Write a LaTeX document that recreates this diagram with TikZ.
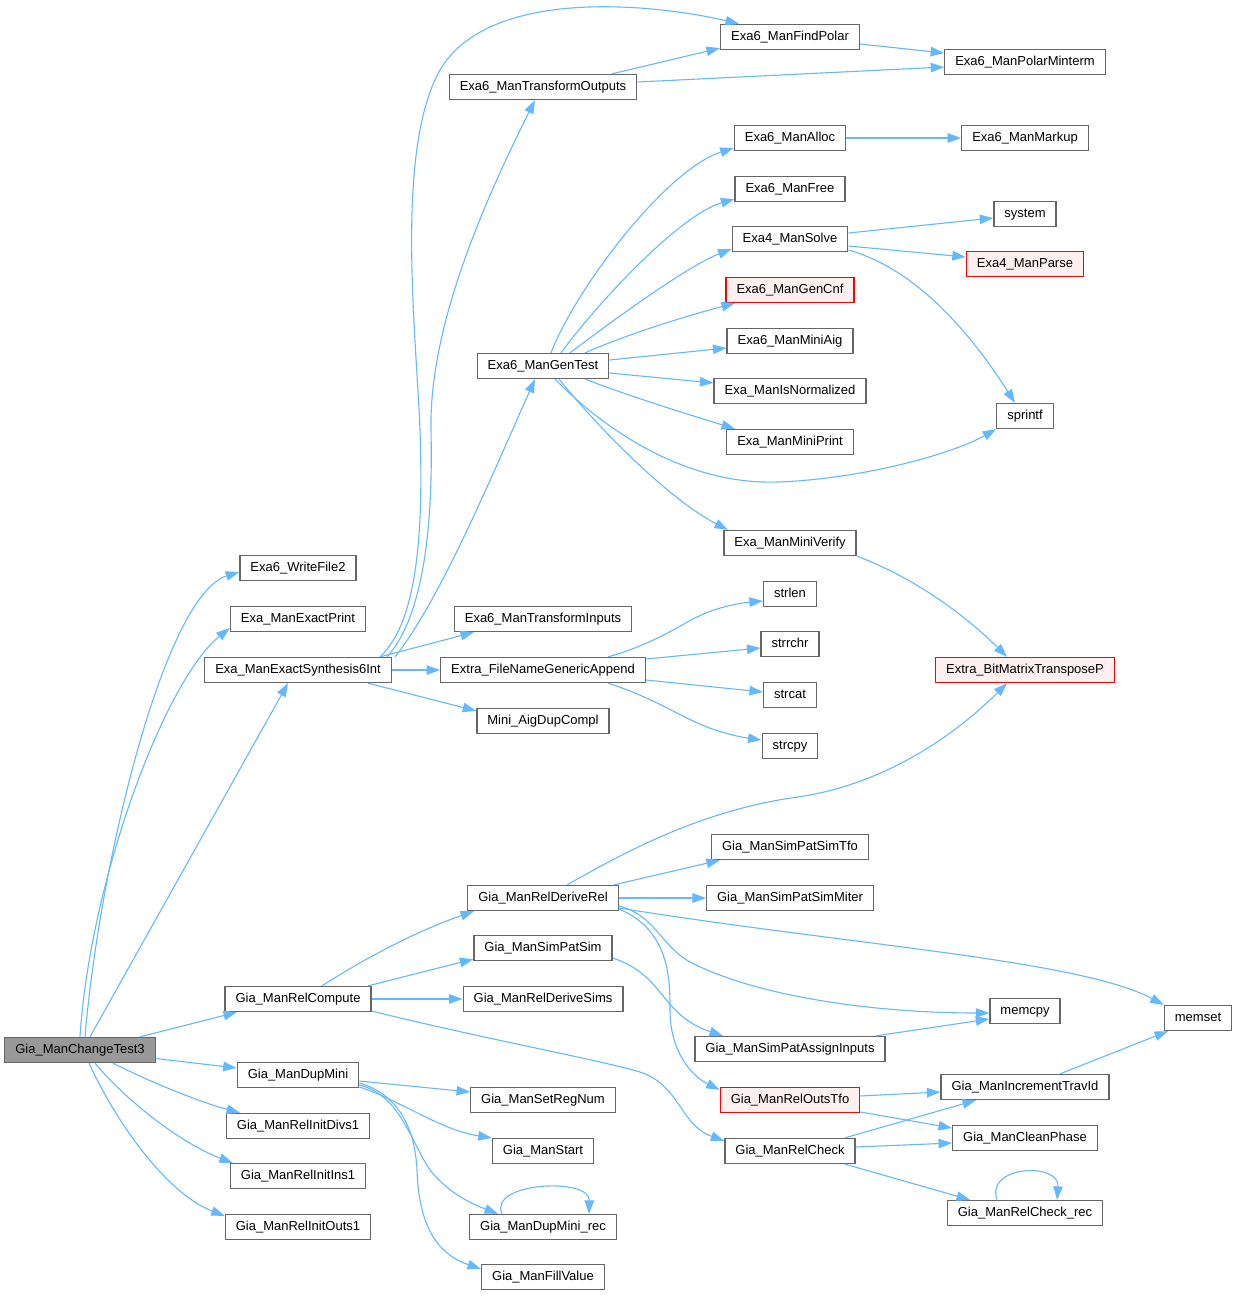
\documentclass[tikz,border=0pt]{standalone}
\usepackage{fontspec}
\setmainfont{Liberation Sans}
\usetikzlibrary{arrows.meta}
\definecolor{edgeblue}{RGB}{99,184,255}
\definecolor{boxgray}{RGB}{102,102,102}
\definecolor{rootgray}{RGB}{153,153,153}
\definecolor{pinkfill}{RGB}{255,240,240}
\tikzstyle{fn} = [rectangle, draw=boxgray, fill=white, line width=1.3pt, minimum height=25pt, inner xsep=10.5pt, inner ysep=0pt, text height=9.4pt, text depth=2.6pt, font=\fontsize{13}{15}\selectfont]
\tikzstyle{fnred} = [fn, draw=red, fill=pinkfill]
\tikzstyle{fnroot} = [fn, fill=rootgray]
\tikzstyle{callarrow} = [draw=edgeblue, line width=1.1pt, -{Triangle[length=13.5pt,width=9.5pt]}]

\begin{document}
\begin{tikzpicture}[x=1pt,y=-1pt]
	\useasboundingbox (0,0) rectangle (1238,1296);
	\node[fnroot] (root) at (80,1050) {Gia\_ManChangeTest3};
	\foreach \n/\x/\y/\txt in {wftwo/298/568/Exa6\_WriteFile2, exprint/298/619/Exa\_ManExactPrint,
		exsyn/298/670/Exa\_ManExactSynthesis6Int, relcomp/298/999/Gia\_ManRelCompute,
		dupmini/298/1075/Gia\_ManDupMini, initdivs/298/1126/Gia\_ManRelInitDivs1,
		initins/298/1176/Gia\_ManRelInitIns1, initouts/298/1227/Gia\_ManRelInitOuts1}
	\node[fn] (\n) at (\x,\y) {\txt};
	\foreach \n/\x/\y/\txt in {transout/543/87/Exa6\_ManTransformOutputs, gentest/543/366/Exa6\_ManGenTest,
		transin/543/619/Exa6\_ManTransformInputs, fnappend/543/670/Extra\_FileNameGenericAppend,
		dupcompl/543/721/Mini\_AigDupCompl, derrel/543/898/Gia\_ManRelDeriveRel,
		simpat/543/948/Gia\_ManSimPatSim, dersims/543/999/Gia\_ManRelDeriveSims,
		setreg/543/1100/Gia\_ManSetRegNum, start/543/1151/Gia\_ManStart,
		duprec/543/1227/Gia\_ManDupMini\_rec, fillval/543/1277/Gia\_ManFillValue}
	\node[fn] (\n) at (\x,\y) {\txt};
	\foreach \n/\x/\y/\txt in {findpolar/790/37/Exa6\_ManFindPolar, alloc/790/138/Exa6\_ManAlloc,
		free/790/189/Exa6\_ManFree, solve/790/239/Exa4\_ManSolve,
		miniaig/790/341/Exa6\_ManMiniAig, isnorm/790/391/Exa\_ManIsNormalized,
		miniprint/790/442/Exa\_ManMiniPrint, miniverify/790/543/Exa\_ManMiniVerify,
		strlen/790/594/strlen, strrchr/790/644/strrchr, strcat/790/695/strcat, strcpy/790/746/strcpy,
		simtfo/790/847/Gia\_ManSimPatSimTfo, simmiter/790/898/Gia\_ManSimPatSimMiter,
		assign/790/1049/Gia\_ManSimPatAssignInputs, relcheck/790/1151/Gia\_ManRelCheck}
	\node[fn] (\n) at (\x,\y) {\txt};
	\foreach \n/\x/\y/\txt in {polarmin/1025/62/Exa6\_ManPolarMinterm, markup/1025/138/Exa6\_ManMarkup,
		system/1025/214/system, sprintf/1025/416/sprintf, memcpy/1025/1011/memcpy,
		travid/1025/1087/Gia\_ManIncrementTravId, cleanph/1025/1138/Gia\_ManCleanPhase,
		checkrec/1025/1213/Gia\_ManRelCheck\_rec, memset/1198/1018/memset}
	\node[fn] (\n) at (\x,\y) {\txt};
	\node[fnred] (gencnf) at (790,290) {Exa6\_ManGenCnf};
	\node[fnred] (parse) at (1025,264) {Exa4\_ManParse};
	\node[fnred] (transp) at (1025,670) {Extra\_BitMatrixTransposeP};
	\node[fnred] (outstfo) at (790,1100) {Gia\_ManRelOutsTfo};

	\draw[callarrow] ([xshift=10]root.north) -- ([xshift=-10]exsyn.south);
	\draw[callarrow] ([xshift=5]root.north) .. controls (100,860) and (165,595) .. ([yshift=-4]wftwo.west);
	\draw[callarrow] (root.north) .. controls (90,880) and (165,680) .. ([yshift=-9]exprint.west);
	\draw[callarrow] ([xshift=60]root.north) -- ([xshift=-61]relcomp.south);
	\draw[callarrow] ([yshift=-8.5]root.east) -- ([yshift=7]dupmini.west);
	\draw[callarrow] ([xshift=33]root.south) .. controls (150,1082) and (200,1102) .. ([xshift=-58]initdivs.north);
	\draw[callarrow] ([xshift=15]root.south) .. controls (130,1105) and (185,1145) .. ([xshift=3]initins.north west);
	\draw[callarrow] ([xshift=9]root.south) .. controls (120,1130) and (170,1195) .. ([yshift=-2]initouts.north west);

	\draw[callarrow] ([xshift=82]exsyn.north) .. controls (420,620) and (423,520) .. (420,430) .. controls (416,330) and (395,150) .. (440,70) .. controls (490,-15) and (660,5) .. ([xshift=-51]findpolar.north);
	\draw[callarrow] ([xshift=89]exsyn.north) .. controls (425,615) and (433,520) .. (431,430) .. controls (429,330) and (480,210) .. ([xshift=-8]transout.south);
	\draw[callarrow] ([xshift=97]exsyn.north) .. controls (440,600) and (490,480) .. ([xshift=-8]gentest.south);
	\draw[callarrow] ([xshift=82]exsyn.north) -- ([xshift=-69]transin.south);
	\draw[callarrow] (exsyn.east) -- (fnappend.west);
	\draw[callarrow] ([xshift=70]exsyn.south) -- ([yshift=-3]dupcompl.north west);

	\draw[callarrow] ([xshift=69]transout.north) -- ([yshift=2]findpolar.south west);
	\draw[callarrow] ([yshift=5]transout.east) -- ([yshift=-5]polarmin.west);
	\draw[callarrow] ([yshift=-7]findpolar.east) -- ([yshift=9]polarmin.west);

	\draw[callarrow] ([xshift=8]gentest.north) .. controls (575,290) and (665,170) .. ([yshift=-10]alloc.west);
	\draw[callarrow] ([xshift=18]gentest.north) .. controls (600,300) and (680,215) .. ([yshift=-10]free.west);
	\draw[callarrow] ([xshift=27]gentest.north) .. controls (620,315) and (690,265) .. ([yshift=-10]solve.west);
	\draw[callarrow] ([xshift=42]gentest.north) .. controls (630,333) and (690,315) .. ([xshift=-55]gencnf.south);
	\draw[callarrow] ([yshift=6]gentest.east) -- ([yshift=-7]miniaig.west);
	\draw[callarrow] ([yshift=-7]gentest.east) -- ([yshift=8]isnorm.west);
	\draw[callarrow] ([xshift=42]gentest.south) .. controls (640,400) and (700,418) .. ([xshift=-55]miniprint.north);
	\draw[callarrow] ([xshift=12]gentest.south) .. controls (610,435) and (690,485) .. (778,482) .. controls (860,479) and (950,455) .. (sprintf.south west);
	\draw[callarrow] ([xshift=16]gentest.south) .. controls (600,430) and (670,500) .. ([xshift=-62]miniverify.north);

	\draw[callarrow] (alloc.east) -- (markup.west);
	\draw[callarrow] ([yshift=6]solve.east) -- ([yshift=-4]system.west);
	\draw[callarrow] ([yshift=-7]solve.east) -- ([yshift=7]parse.west);
	\draw[callarrow] ([yshift=-11]solve.east) .. controls (920,270) and (975,340) .. ([xshift=-10]sprintf.north);
	\draw[callarrow] ([xshift=67]miniverify.south) .. controls (920,580) and (970,620) .. ([xshift=-18]transp.north);

	\draw[callarrow] ([xshift=65]fnappend.north) .. controls (640,648) and (665,635) .. (691,620) .. controls (715,607) and (740,603) .. ([yshift=-7]strlen.west);
	\draw[callarrow] ([yshift=11]fnappend.east) -- ([yshift=-4]strrchr.west);
	\draw[callarrow] ([yshift=-10]fnappend.east) -- ([yshift=3]strcat.west);
	\draw[callarrow] ([xshift=65]fnappend.south) .. controls (645,695) and (670,710) .. (691,720) .. controls (715,732) and (740,737) .. ([yshift=6]strcpy.west);

	\draw[callarrow] ([xshift=24]relcomp.north) .. controls (370,955) and (420,930) .. ([xshift=-69]derrel.south);
	\draw[callarrow] ([xshift=70]relcomp.north) -- ([yshift=2]simpat.south west);
	\draw[callarrow] (relcomp.east) -- (dersims.west);
	\draw[callarrow] ([yshift=-12]relcomp.east) .. controls (480,1038) and (600,1060) .. (640,1072) .. controls (680,1085) and (680,1125) .. ([yshift=-3]relcheck.north west);

	\draw[callarrow] ([xshift=24]derrel.north) .. controls (620,855) and (700,810) .. (798,797) .. controls (880,785) and (950,740) .. ([xshift=-18]transp.south);
	\draw[callarrow] ([xshift=71]derrel.north) -- ([xshift=-70]simtfo.south);
	\draw[callarrow] (derrel.east) -- (simmiter.west);
	\draw[callarrow] ([yshift=-10]derrel.east) .. controls (850,945) and (1080,960) .. (memset.north west);
	\draw[callarrow] ([yshift=-8]derrel.east) .. controls (655,915) and (660,945) .. (690,962) .. controls (760,998) and (880,1013) .. ([yshift=-2]memcpy.west);
	\draw[callarrow] ([yshift=-11]derrel.east) .. controls (670,930) and (670,980) .. (670,1010) .. controls (670,1050) and (690,1075) .. ([yshift=-3]outstfo.north west);
	\draw[callarrow] ([yshift=-10]simpat.east) .. controls (665,975) and (660,1015) .. ([xshift=-67]assign.north);
	\draw[callarrow] ([xshift=86]assign.north) -- ([yshift=-8]memcpy.west);

	\draw[callarrow] ([yshift=4]outstfo.east) -- ([yshift=-5]travid.west);
	\draw[callarrow] ([yshift=-12]outstfo.east) -- ([yshift=10]cleanph.west);
	\draw[callarrow] ([xshift=55]relcheck.north) -- ([xshift=-49]travid.south);
	\draw[callarrow] ([yshift=4]relcheck.east) -- ([yshift=-5]cleanph.west);
	\draw[callarrow] ([xshift=55]relcheck.south) -- ([xshift=-55]checkrec.north);
	\draw[callarrow] ([xshift=-28]checkrec.north) .. controls (985,1165) and (1060,1162) .. ([xshift=32]checkrec.north);
	\draw[callarrow] ([xshift=35]travid.north) -- ([xshift=-30]memset.south);

	\draw[callarrow] ([yshift=-6]dupmini.east) -- ([yshift=8]setreg.west);
	\draw[callarrow] ([yshift=-12]dupmini.east) .. controls (400,1100) and (440,1130) .. (start.north west);
	\draw[callarrow] ([yshift=-10]dupmini.east) .. controls (400,1095) and (410,1140) .. (430,1170) .. controls (450,1195) and (475,1205) .. ([xshift=-45]duprec.north);
	\draw[callarrow] ([yshift=-8]dupmini.east) .. controls (400,1095) and (415,1130) .. (417,1170) .. controls (419,1230) and (440,1255) .. ([yshift=8]fillval.west);
	\draw[callarrow] ([xshift=-41]duprec.north) .. controls (488,1182) and (590,1177) .. ([xshift=46]duprec.north);
\end{tikzpicture}
\end{document}
